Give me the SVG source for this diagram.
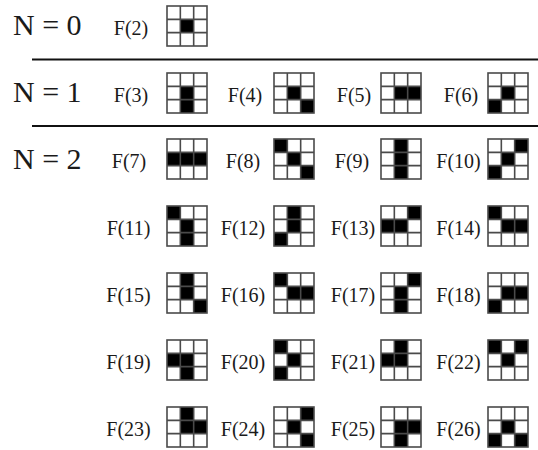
<svg xmlns="http://www.w3.org/2000/svg" xmlns:xlink="http://www.w3.org/1999/xlink" width="538" height="450" viewBox="0 0 538 450">
<style>
.lbl{font-size:20px;fill:#1a1a1a;text-anchor:middle}
.nl{font-size:30px;fill:#1a1a1a}
.on{fill:#000}
.sep{stroke:#111;stroke-width:1.8}
</style>
<defs>
<g id="grid" fill="none" stroke="#4a4a4a" stroke-width="1.6">
<rect x="0" y="0" width="40" height="40"/>
<path d="M13.33 0V40M26.67 0V40M0 13.33H40M0 26.67H40"/>
</g>
<rect id="c" width="13.34" height="13.34" class="on"/>
</defs>
<rect width="538" height="450" fill="#fff"/>
<g id="connectors">
<line class="sep" x1="32" y1="59.5" x2="538" y2="59.5"/>
<line class="sep" x1="32" y1="126" x2="538" y2="126"/>
</g>
<g id="levels">
<text class="nl" font-family="Liberation Serif" x="13" y="35">N = 0</text>
<text class="nl" font-family="Liberation Serif" x="13" y="102">N = 1</text>
<text class="nl" font-family="Liberation Serif" x="13" y="169">N = 2</text>
</g>
<g id="nodes">
<g id="F2"><text class="lbl" font-family="Liberation Serif" x="131" y="35">F(2)</text><g transform="translate(167,6)"><use xlink:href="#c" x="13.33" y="13.33"/><use xlink:href="#grid"/></g></g>
<g id="F3"><text class="lbl" font-family="Liberation Serif" x="131" y="102">F(3)</text><g transform="translate(167,73)"><use xlink:href="#c" x="13.33" y="13.33"/><use xlink:href="#c" x="13.33" y="26.66"/><use xlink:href="#grid"/></g></g>
<g id="F4"><text class="lbl" font-family="Liberation Serif" x="245" y="102">F(4)</text><g transform="translate(274,73)"><use xlink:href="#c" x="13.33" y="13.33"/><use xlink:href="#c" x="26.66" y="26.66"/><use xlink:href="#grid"/></g></g>
<g id="F5"><text class="lbl" font-family="Liberation Serif" x="354" y="102">F(5)</text><g transform="translate(381,73)"><use xlink:href="#c" x="13.33" y="13.33"/><use xlink:href="#c" x="26.66" y="13.33"/><use xlink:href="#grid"/></g></g>
<g id="F6"><text class="lbl" font-family="Liberation Serif" x="461" y="102">F(6)</text><g transform="translate(488,73)"><use xlink:href="#c" x="13.33" y="13.33"/><use xlink:href="#c" x="0" y="26.66"/><use xlink:href="#grid"/></g></g>
<g id="F7"><text class="lbl" font-family="Liberation Serif" x="129" y="168">F(7)</text><g transform="translate(167,139)"><use xlink:href="#c" x="0" y="13.33"/><use xlink:href="#c" x="13.33" y="13.33"/><use xlink:href="#c" x="26.66" y="13.33"/><use xlink:href="#grid"/></g></g>
<g id="F8"><text class="lbl" font-family="Liberation Serif" x="243" y="168">F(8)</text><g transform="translate(274,139)"><use xlink:href="#c" x="0" y="0"/><use xlink:href="#c" x="13.33" y="13.33"/><use xlink:href="#c" x="26.66" y="26.66"/><use xlink:href="#grid"/></g></g>
<g id="F9"><text class="lbl" font-family="Liberation Serif" x="352" y="168">F(9)</text><g transform="translate(381,139)"><use xlink:href="#c" x="13.33" y="0"/><use xlink:href="#c" x="13.33" y="13.33"/><use xlink:href="#c" x="13.33" y="26.66"/><use xlink:href="#grid"/></g></g>
<g id="F10"><text class="lbl" font-family="Liberation Serif" x="458.5" y="168">F(10)</text><g transform="translate(488,139)"><use xlink:href="#c" x="26.66" y="0"/><use xlink:href="#c" x="13.33" y="13.33"/><use xlink:href="#c" x="0" y="26.66"/><use xlink:href="#grid"/></g></g>
<g id="F11"><text class="lbl" font-family="Liberation Serif" x="128.5" y="235">F(11)</text><g transform="translate(167,206)"><use xlink:href="#c" x="0" y="0"/><use xlink:href="#c" x="13.33" y="13.33"/><use xlink:href="#c" x="13.33" y="26.66"/><use xlink:href="#grid"/></g></g>
<g id="F12"><text class="lbl" font-family="Liberation Serif" x="243" y="235">F(12)</text><g transform="translate(274,206)"><use xlink:href="#c" x="13.33" y="0"/><use xlink:href="#c" x="13.33" y="13.33"/><use xlink:href="#c" x="0" y="26.66"/><use xlink:href="#grid"/></g></g>
<g id="F13"><text class="lbl" font-family="Liberation Serif" x="353" y="235">F(13)</text><g transform="translate(381,206)"><use xlink:href="#c" x="26.66" y="0"/><use xlink:href="#c" x="0" y="13.33"/><use xlink:href="#c" x="13.33" y="13.33"/><use xlink:href="#grid"/></g></g>
<g id="F14"><text class="lbl" font-family="Liberation Serif" x="458.5" y="235">F(14)</text><g transform="translate(488,206)"><use xlink:href="#c" x="0" y="0"/><use xlink:href="#c" x="13.33" y="13.33"/><use xlink:href="#c" x="26.66" y="13.33"/><use xlink:href="#grid"/></g></g>
<g id="F15"><text class="lbl" font-family="Liberation Serif" x="128.5" y="302">F(15)</text><g transform="translate(167,273)"><use xlink:href="#c" x="13.33" y="0"/><use xlink:href="#c" x="13.33" y="13.33"/><use xlink:href="#c" x="26.66" y="26.66"/><use xlink:href="#grid"/></g></g>
<g id="F16"><text class="lbl" font-family="Liberation Serif" x="243" y="302">F(16)</text><g transform="translate(274,273)"><use xlink:href="#c" x="0" y="0"/><use xlink:href="#c" x="13.33" y="13.33"/><use xlink:href="#c" x="26.66" y="13.33"/><use xlink:href="#grid"/></g></g>
<g id="F17"><text class="lbl" font-family="Liberation Serif" x="353" y="302">F(17)</text><g transform="translate(381,273)"><use xlink:href="#c" x="26.66" y="0"/><use xlink:href="#c" x="13.33" y="13.33"/><use xlink:href="#c" x="13.33" y="26.66"/><use xlink:href="#grid"/></g></g>
<g id="F18"><text class="lbl" font-family="Liberation Serif" x="458.5" y="302">F(18)</text><g transform="translate(488,273)"><use xlink:href="#c" x="13.33" y="13.33"/><use xlink:href="#c" x="26.66" y="13.33"/><use xlink:href="#c" x="0" y="26.66"/><use xlink:href="#grid"/></g></g>
<g id="F19"><text class="lbl" font-family="Liberation Serif" x="128.5" y="369">F(19)</text><g transform="translate(167,340)"><use xlink:href="#c" x="0" y="13.33"/><use xlink:href="#c" x="13.33" y="13.33"/><use xlink:href="#c" x="13.33" y="26.66"/><use xlink:href="#grid"/></g></g>
<g id="F20"><text class="lbl" font-family="Liberation Serif" x="243" y="369">F(20)</text><g transform="translate(274,340)"><use xlink:href="#c" x="0" y="0"/><use xlink:href="#c" x="13.33" y="13.33"/><use xlink:href="#c" x="0" y="26.66"/><use xlink:href="#grid"/></g></g>
<g id="F21"><text class="lbl" font-family="Liberation Serif" x="353" y="369">F(21)</text><g transform="translate(381,340)"><use xlink:href="#c" x="13.33" y="0"/><use xlink:href="#c" x="0" y="13.33"/><use xlink:href="#c" x="13.33" y="13.33"/><use xlink:href="#grid"/></g></g>
<g id="F22"><text class="lbl" font-family="Liberation Serif" x="458.5" y="369">F(22)</text><g transform="translate(488,340)"><use xlink:href="#c" x="0" y="0"/><use xlink:href="#c" x="26.66" y="0"/><use xlink:href="#c" x="13.33" y="13.33"/><use xlink:href="#grid"/></g></g>
<g id="F23"><text class="lbl" font-family="Liberation Serif" x="128.5" y="436">F(23)</text><g transform="translate(167,407)"><use xlink:href="#c" x="13.33" y="0"/><use xlink:href="#c" x="13.33" y="13.33"/><use xlink:href="#c" x="26.66" y="13.33"/><use xlink:href="#grid"/></g></g>
<g id="F24"><text class="lbl" font-family="Liberation Serif" x="243" y="436">F(24)</text><g transform="translate(274,407)"><use xlink:href="#c" x="26.66" y="0"/><use xlink:href="#c" x="13.33" y="13.33"/><use xlink:href="#c" x="26.66" y="26.66"/><use xlink:href="#grid"/></g></g>
<g id="F25"><text class="lbl" font-family="Liberation Serif" x="353" y="436">F(25)</text><g transform="translate(381,407)"><use xlink:href="#c" x="13.33" y="13.33"/><use xlink:href="#c" x="26.66" y="13.33"/><use xlink:href="#c" x="13.33" y="26.66"/><use xlink:href="#grid"/></g></g>
<g id="F26"><text class="lbl" font-family="Liberation Serif" x="458.5" y="436">F(26)</text><g transform="translate(488,407)"><use xlink:href="#c" x="13.33" y="13.33"/><use xlink:href="#c" x="0" y="26.66"/><use xlink:href="#c" x="26.66" y="26.66"/><use xlink:href="#grid"/></g></g>
</g>
</svg>
